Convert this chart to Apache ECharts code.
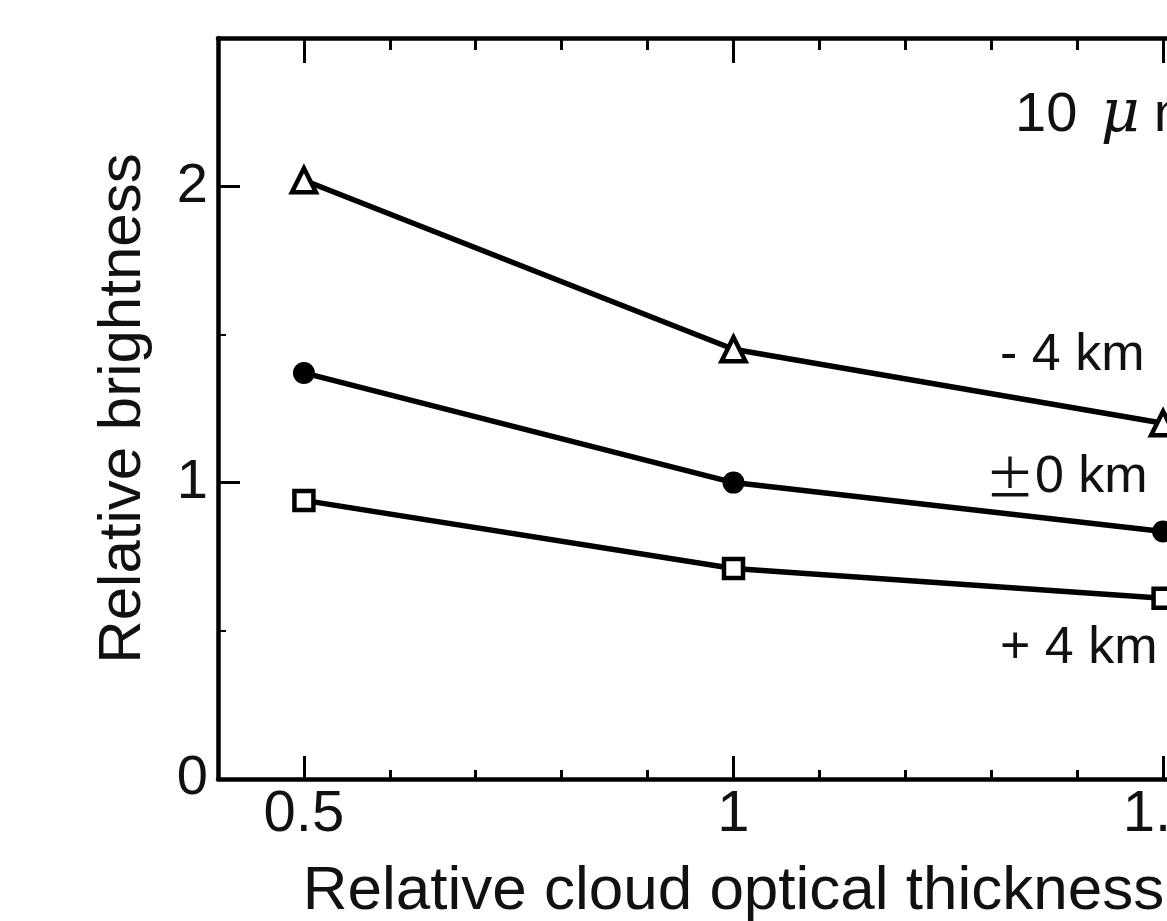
<!DOCTYPE html>
<html>
<head>
<meta charset="utf-8">
<script src="https://cdn.jsdelivr.net/npm/echarts@6/dist/echarts.min.js"></script>
<style>
  html, body { margin: 0; padding: 0; background: #fff; }
  #chart { width: 1167px; height: 921px; }
</style>
</head>
<body>
<div id="chart"></div>
<script>
// relative cloud optical thickness
const thickness = [0.5, 1, 1.5];
// relative brightness per cloud-top height offset
const minus4km = [2.02, 1.45, 1.2];
const zero0km = [1.37, 1.0, 0.835];
const plus4km = [0.94, 0.71, 0.61];

const xMajor = [0.5, 1, 1.5];
const xMinor = [0.6, 0.7, 0.8, 0.9, 1.1, 1.2, 1.3, 1.4];
const yMajor = [0, 1, 2];
const yMinor = [0.5, 1.5];

const font = "Liberation Sans, Arial, sans-serif";

function pairs(ys) {
  return thickness.map((x, i) => [x, ys[i]]);
}

let myChart = echarts.init(document.getElementById("chart"));

function xAx(pos, ticks, len, labels) {
  return {
    type: "value",
    min: 0.4,
    max: 1.6,
    position: pos,
    axisLine: { show: labels, onZero: false, lineStyle: { color: "#000", width: 4.5 } },
    axisTick: { inside: true, length: len, customValues: ticks, lineStyle: { color: "#000", width: 3 } },
    axisLabel: labels
      ? { show: pos === "bottom", customValues: xMajor, fontSize: 58, margin: 7, color: "#111", fontFamily: font }
      : { show: false },
    splitLine: { show: false },
  };
}

const series = [
  { data: pairs(minus4km), symbol: "triangle", size: 24, fill: "#fff" },
  { data: pairs(zero0km), symbol: "circle", size: 22, fill: "#000" },
  { data: pairs(plus4km), symbol: "rect", size: 19, fill: "#fff" },
].map((s) => ({
  type: "line",
  data: s.data,
  symbol: s.symbol,
  symbolSize: s.size,
  showSymbol: true,
  color: "#000",
  lineStyle: { color: "#000", width: 5.5 },
  itemStyle: { color: s.fill, borderColor: "#000", borderWidth: s.fill === "#fff" ? 4.5 : 0 },
}));

myChart.setOption({
  animation: false,
  backgroundColor: "#fff",
  grid: { left: 218, top: 38, width: 1031, height: 741, outerBoundsMode: "none", containLabel: false },
  xAxis: [
    {
      ...xAx("bottom", xMajor, 23, true),
      name: "Relative cloud optical thickness",
      nameLocation: "middle",
      nameGap: 82,
      nameTextStyle: { fontSize: 62, color: "#111", fontFamily: font },
    },
    xAx("bottom", xMinor, 9, false),
    xAx("top", xMajor, 25, true),
    xAx("top", xMinor, 12, false),
  ],
  yAxis: [
    {
      type: "value",
      min: 0,
      max: 2.5,
      position: "left",
      axisLine: { show: true, onZero: false, lineStyle: { color: "#000", width: 4.5 } },
      axisTick: { inside: true, length: 22, customValues: yMajor, lineStyle: { color: "#000", width: 3 } },
      axisLabel: { customValues: yMajor, fontSize: 56, margin: 10, color: "#111", fontFamily: font },
      splitLine: { show: false },
      name: "Relative brightness",
      nameLocation: "middle",
      nameGap: 65,
      nameTextStyle: { fontSize: 60, color: "#111", fontFamily: font },
    },
    {
      type: "value",
      min: 0,
      max: 2.5,
      position: "left",
      axisLine: { show: false, onZero: false },
      axisTick: { inside: true, length: 8, customValues: yMinor, lineStyle: { color: "#000", width: 2 } },
      axisLabel: { show: false },
      splitLine: { show: false },
    },
  ],
  series: series,
  graphic: [
    {
      type: "text",
      left: 1015,
      top: 86,
      style: {
        text: "10 {mu|μ}m",
        font: "56px " + font,
        fill: "#111",
        rich: { mu: { fontStyle: "italic", fontSize: 60, fontFamily: "DejaVu Serif", padding: [0, 14, 0, 8] } },
      },
    },
    { type: "text", left: 1000, top: 330, style: { text: "- 4 km", font: "52px " + font, fill: "#111" } },
    {
      type: "text",
      left: 985,
      top: 452,
      style: {
        text: "{pm|±}0 km",
        font: "52px " + font,
        fill: "#111",
        rich: { pm: { fontFamily: "Noto Sans CJK JP", fontSize: 50 } },
      },
    },
    { type: "text", left: 1000, top: 623, style: { text: "+ 4 km", font: "52px " + font, fill: "#111" } },
  ],
});
</script>
</body>
</html>
